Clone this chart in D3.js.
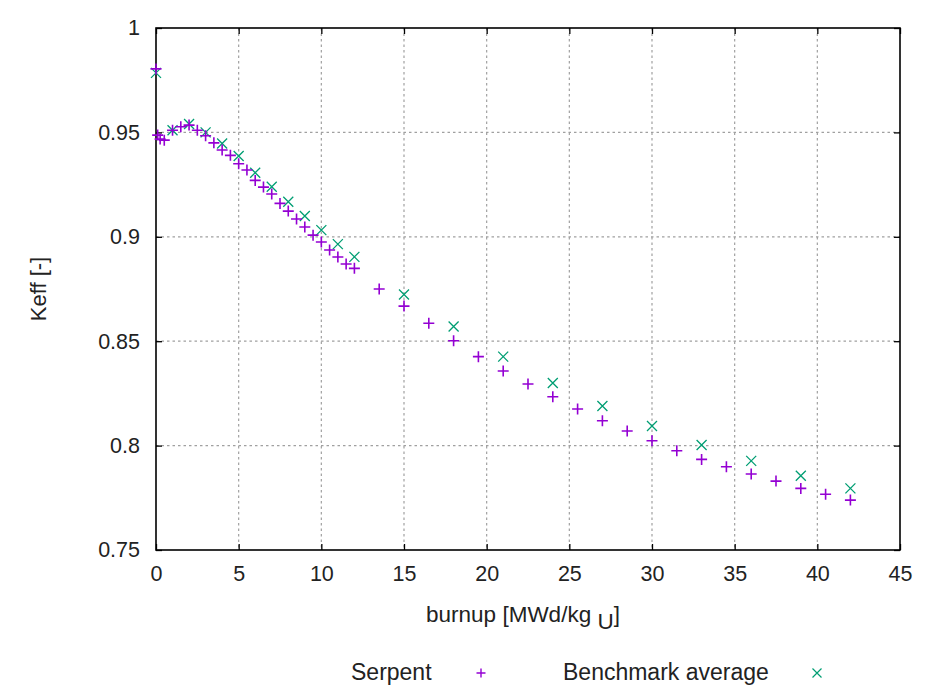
<!DOCTYPE html>
<html>
<head>
<meta charset="utf-8">
<script src="https://cdn.jsdelivr.net/npm/d3@7"></script>
<style>
body { margin:0; background:#fff; }
text { font-family:"Liberation Sans", Arial, sans-serif; fill:#222; }
</style>
</head>
<body>
<svg id="ChartSvg" width="927" height="688"></svg>
<script>
var SerpentBurnup = [0, 0.1, 0.25, 0.5, 1, 1.5, 2, 2.5, 3, 3.5, 4, 4.5, 5, 5.5, 6, 6.5, 7, 7.5, 8, 8.5, 9, 9.5, 10, 10.5, 11, 11.5, 12,
	13.5, 15, 16.5, 18, 19.5, 21, 22.5, 24, 25.5, 27, 28.5, 30, 31.5, 33, 34.5, 36, 37.5, 39, 40.5, 42];
var SerpentKeff = [0.9804, 0.9487, 0.9468, 0.9463, 0.951, 0.9527, 0.9535, 0.951, 0.9484, 0.945, 0.9416, 0.939, 0.935, 0.932, 0.927, 0.9238,
	0.9205, 0.916, 0.9123, 0.9085, 0.9047, 0.9008, 0.8975, 0.8937, 0.8903, 0.887, 0.8849,
	0.875, 0.8668, 0.8586, 0.8502, 0.8426, 0.8357, 0.8295, 0.8234, 0.8175, 0.8119, 0.807, 0.8023, 0.7975, 0.7934, 0.7899, 0.7864, 0.783, 0.7795, 0.7767, 0.7739];

var BenchBurnup = [0, 1, 2, 3, 4, 5, 6, 7, 8, 9, 10, 11, 12, 15, 18, 21, 24, 27, 30, 33, 36, 39, 42];
var BenchKeff = [0.9785, 0.951, 0.954, 0.950, 0.9447, 0.9387, 0.9307, 0.924, 0.9168, 0.91, 0.9032, 0.8965, 0.8904,
	0.8724, 0.857, 0.8426, 0.830, 0.819, 0.8094, 0.8003, 0.7927, 0.7856, 0.7795];

var XTicks = [0, 5, 10, 15, 20, 25, 30, 35, 40, 45];
var YTicks = [0.75, 0.8, 0.85, 0.9, 0.95, 1];
var YTickLabels = ["0.75", "0.8", "0.85", "0.9", "0.95", "1"];

var Left = 156, Right = 900, Top = 28, Bottom = 550;

var svg = d3.select("#ChartSvg");
var X = d3.scaleLinear().domain([0, 45]).range([Left, Right]);
var Y = d3.scaleLinear().domain([0.75, 1]).range([Bottom, Top]);

// grid
svg.append("g")
	.selectAll("line")
	.data(XTicks.slice(1, -1))
	.enter()
	.append("line")
	.attr("x1", function(d){ return X(d); })
	.attr("x2", function(d){ return X(d); })
	.attr("y1", Top)
	.attr("y2", Bottom)
	.attr("stroke", "#a0a0a0")
	.attr("stroke-width", 1.2)
	.attr("stroke-dasharray", "2.5,3");

svg.append("g")
	.selectAll("line")
	.data(YTicks.slice(1, -1))
	.enter()
	.append("line")
	.attr("x1", Left)
	.attr("x2", Right)
	.attr("y1", function(d){ return Y(d); })
	.attr("y2", function(d){ return Y(d); })
	.attr("stroke", "#a0a0a0")
	.attr("stroke-width", 1.2)
	.attr("stroke-dasharray", "2.5,3");

// axes, ticks point inward like gnuplot
var XAxis = svg.append("g")
	.attr("transform", "translate(0," + Bottom + ")")
	.call(d3.axisBottom(X).tickValues(XTicks).tickSizeInner(-6).tickSizeOuter(0).tickPadding(16));
var XAxisTop = svg.append("g")
	.attr("transform", "translate(0," + Top + ")")
	.call(d3.axisTop(X).tickValues(XTicks).tickSizeInner(-6).tickSizeOuter(0).tickFormat(""));
var YAxis = svg.append("g")
	.attr("transform", "translate(" + Left + ",0)")
	.call(d3.axisLeft(Y).tickValues(YTicks).tickSizeInner(-6).tickSizeOuter(0).tickPadding(16)
		.tickFormat(function(d, i){ return YTickLabels[i]; }));
var YAxisRight = svg.append("g")
	.attr("transform", "translate(" + Right + ",0)")
	.call(d3.axisRight(Y).tickValues(YTicks).tickSizeInner(-6).tickSizeOuter(0).tickFormat(""));

svg.selectAll(".domain").remove();
svg.selectAll(".tick line").attr("stroke", "#000").attr("stroke-width", 1.3);
svg.selectAll(".tick text").style("font-size", "21.5px").attr("fill", "#222");
XAxis.selectAll(".tick text").attr("dy", "0.68em");

svg.append("rect")
	.attr("x", Left)
	.attr("y", Top)
	.attr("width", Right - Left)
	.attr("height", Bottom - Top)
	.attr("fill", "none")
	.attr("stroke", "#000")
	.attr("stroke-width", 1.6);

// markers
function PlusPath(cx, cy, s)
{
	return "M" + (cx - s) + "," + cy + "H" + (cx + s) + "M" + cx + "," + (cy - s) + "V" + (cy + s);
}
function CrossPath(cx, cy, s)
{
	return "M" + (cx - s) + "," + (cy - s) + "L" + (cx + s) + "," + (cy + s) +
		"M" + (cx - s) + "," + (cy + s) + "L" + (cx + s) + "," + (cy - s);
}

svg.append("g")
	.selectAll("path")
	.data(BenchBurnup)
	.enter()
	.append("path")
	.attr("d", function(d, i){ return CrossPath(X(d), Y(BenchKeff[i]), 5); })
	.attr("stroke", "#009e73")
	.attr("stroke-width", 1.3)
	.attr("fill", "none");

svg.append("g")
	.selectAll("path")
	.data(SerpentBurnup)
	.enter()
	.append("path")
	.attr("d", function(d, i){ return PlusPath(X(d), Y(SerpentKeff[i]), 5.5); })
	.attr("stroke", "#9400d3")
	.attr("stroke-width", 1.6)
	.attr("fill", "none");

// axis titles
svg.append("text")
	.attr("x", 38)
	.attr("y", (Top + Bottom) / 2)
	.attr("transform", "rotate(-90,38," + ((Top + Bottom) / 2) + ")")
	.attr("text-anchor", "middle")
	.attr("dy", "0.35em")
	.style("font-size", "22px")
	.text("Keff [-]");

var XTitle = svg.append("text")
	.attr("x", (Left + Right) / 2 - 5)
	.attr("y", 622)
	.attr("text-anchor", "middle")
	.style("font-size", "22.5px");
XTitle.append("tspan").text("burnup [MWd/kg ");
XTitle.append("tspan").attr("dy", 7).text("U");
XTitle.append("tspan").attr("dy", -7).text("]");

// legend
svg.append("text").attr("x", 351).attr("y", 680).style("font-size", "23px").text("Serpent");
svg.append("path").attr("d", PlusPath(481, 673, 4.5)).attr("stroke", "#9400d3").attr("stroke-width", 1.4);
svg.append("text").attr("x", 563).attr("y", 680).style("font-size", "23px").text("Benchmark average");
svg.append("path").attr("d", CrossPath(817, 673, 4.5)).attr("stroke", "#009e73").attr("stroke-width", 1.2);
</script>
</body>
</html>
